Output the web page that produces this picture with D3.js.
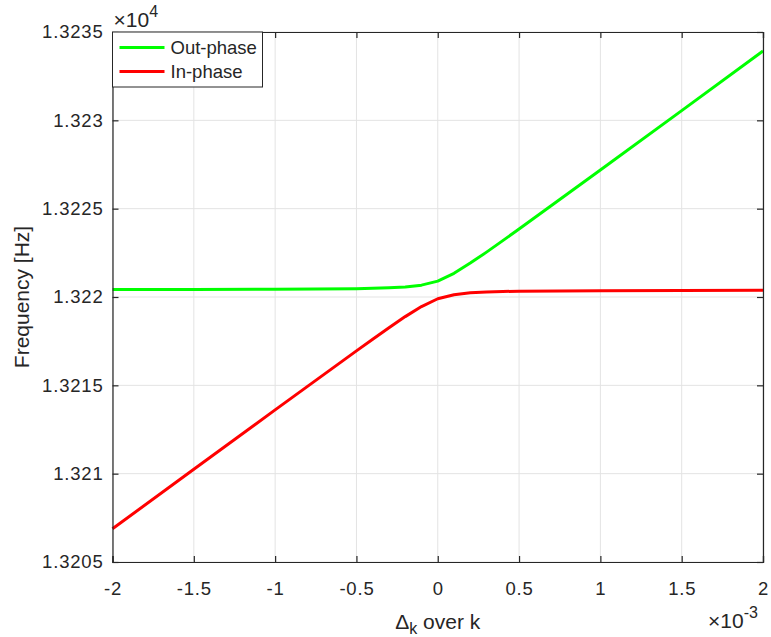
<!DOCTYPE html>
<html>
<head>
<meta charset="utf-8">
<script src="https://cdn.jsdelivr.net/npm/d3@7"></script>
<style>
  html, body { margin: 0; padding: 0; background: #fff; overflow: hidden; }
  svg { display: block; }
  text { font-family: Arial, "Liberation Sans", Helvetica, sans-serif; fill: #262626; }
</style>
</head>
<body>
<script>
// detuning (Delta_k / k) and the two mode frequencies in Hz
var detuning = [-0.002, -0.0015, -0.001, -0.0005, -0.0004, -0.0003, -0.0002, -0.0001, 0,
                0.0001, 0.0002, 0.0003, 0.0004, 0.0005, 0.001, 0.0015, 0.002];
var outPhase = [13220.42, 13220.42, 13220.44, 13220.47, 13220.49, 13220.52, 13220.57, 13220.67, 13220.90,
                13221.34, 13221.92, 13222.54, 13223.19, 13223.85, 13227.19, 13230.55, 13233.92];
var inPhase  = [13206.88, 13210.25, 13213.61, 13216.95, 13217.61, 13218.26, 13218.89, 13219.46, 13219.90,
                13220.13, 13220.24, 13220.28, 13220.31, 13220.33, 13220.36, 13220.37, 13220.38];
var xTicks = [-0.002, -0.0015, -0.001, -0.0005, 0, 0.0005, 0.001, 0.0015, 0.002];
var yTicks = [13205, 13210, 13215, 13220, 13225, 13230, 13235];
var seriesNames = ["Out-phase", "In-phase"];
var seriesColors = ["#00ff00", "#ff0000"];

var outerWidth = 771, outerHeight = 637;
var margin = { left: 112.5, top: 32, right: 8, bottom: 75 };
var innerWidth  = outerWidth  - margin.left - margin.right;
var innerHeight = outerHeight - margin.top  - margin.bottom;

var svg = d3.select("body").append("svg")
  .attr("width", outerWidth)
  .attr("height", outerHeight);

var g = svg.append("g")
  .attr("transform", "translate(" + margin.left + "," + margin.top + ")");

var xScale = d3.scaleLinear().domain([-0.002, 0.002]).range([0, innerWidth]);
var yScale = d3.scaleLinear().domain([13205, 13235]).range([innerHeight, 0]);

// grid
g.selectAll(".vgrid").data(xTicks).enter().append("line")
  .attr("x1", function (d){ return xScale(d); })
  .attr("x2", function (d){ return xScale(d); })
  .attr("y1", 0).attr("y2", innerHeight)
  .attr("stroke", "#e3e3e3").attr("stroke-width", 1);
g.selectAll(".hgrid").data(yTicks).enter().append("line")
  .attr("y1", function (d){ return yScale(d); })
  .attr("y2", function (d){ return yScale(d); })
  .attr("x1", 0).attr("x2", innerWidth)
  .attr("stroke", "#e3e3e3").attr("stroke-width", 1);

// curves
var line = d3.line()
  .x(function (d){ return xScale(d[0]); })
  .y(function (d){ return yScale(d[1]); });

[outPhase, inPhase].forEach(function (vals, i){
  g.append("path")
    .datum(detuning.map(function (x, j){ return [x, vals[j]]; }))
    .attr("d", line)
    .attr("fill", "none")
    .attr("stroke", seriesColors[i])
    .attr("stroke-width", 3)
    .attr("stroke-linejoin", "round");
});

// axes (ticks inward, box on); plain hyphen for minus like the original
var fmtX = function (d){ return String(+(d * 1e3).toFixed(1)); };
var fmtY = function (d){ return String(+(d / 1e4).toFixed(4)); };

var xAxis = g.append("g").attr("transform", "translate(0," + innerHeight + ")")
  .call(d3.axisBottom(xScale).tickValues(xTicks).tickSize(-6).tickPadding(20).tickFormat(fmtX));
var yAxis = g.append("g")
  .call(d3.axisLeft(yScale).tickValues(yTicks).tickSize(-6).tickPadding(9).tickFormat(fmtY));
var xTop = g.append("g")
  .call(d3.axisTop(xScale).tickValues(xTicks).tickSize(-6).tickFormat(""));
var yRight = g.append("g").attr("transform", "translate(" + innerWidth + ",0)")
  .call(d3.axisRight(yScale).tickValues(yTicks).tickSize(-6).tickFormat(""));
xTop.selectAll(".tick text").remove();
yRight.selectAll(".tick text").remove();

[xAxis, yAxis, xTop, yRight].forEach(function (a){
  a.select(".domain").attr("stroke", "#262626").attr("stroke-width", 1.2);
  a.selectAll(".tick line").attr("stroke", "#262626").attr("stroke-width", 1.2);
  a.selectAll(".tick text").attr("fill", "#262626")
    .style("font-size", "18.5px").style("letter-spacing", "0.8px")
    .style("font-family", "Arial, 'Liberation Sans', sans-serif");
});

// exponent labels
var expY = svg.append("text").attr("x", margin.left + 1).attr("y", 27)
  .style("font-size", "21px");
expY.append("tspan").text("\u00d710");
expY.append("tspan").attr("dy", -10).style("font-size", "16px").text("4");

var expX = svg.append("text").attr("x", 708).attr("y", 628)
  .style("font-size", "21px");
expX.append("tspan").text("\u00d710");
expX.append("tspan").attr("dy", -10).style("font-size", "16px").text("-3");

// axis labels
var xLabel = svg.append("text")
  .attr("x", margin.left + innerWidth / 2).attr("y", 629)
  .attr("text-anchor", "middle").style("font-size", "21px");
xLabel.append("tspan").text("\u0394");
xLabel.append("tspan").attr("dy", 5).style("font-size", "16px").text("k");
xLabel.append("tspan").attr("dy", -5).text(" over k");

svg.append("text")
  .attr("transform", "translate(29," + (margin.top + innerHeight / 2) + ") rotate(-90)")
  .attr("text-anchor", "middle").style("font-size", "21px")
  .text("Frequency [Hz]");

// legend
var legend = g.append("g");
legend.append("rect")
  .attr("x", 0).attr("y", 0).attr("width", 150).attr("height", 55)
  .attr("fill", "#fff").attr("stroke", "#262626").attr("stroke-width", 1);
seriesNames.forEach(function (name, i){
  var yy = 15.5 + i * 24;
  legend.append("line")
    .attr("x1", 7).attr("x2", 52).attr("y1", yy).attr("y2", yy)
    .attr("stroke", seriesColors[i]).attr("stroke-width", 3);
  legend.append("text")
    .attr("x", 58).attr("y", yy + 6.5)
    .style("font-size", "18.5px").text(name);
});
</script>
</body>
</html>
